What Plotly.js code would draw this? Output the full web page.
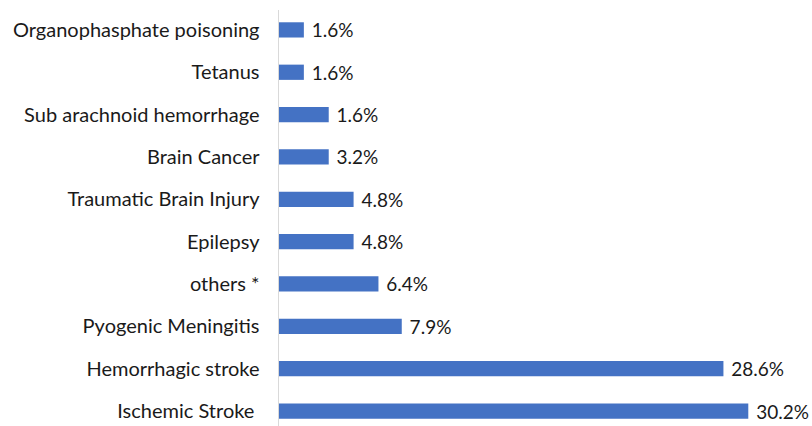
<!DOCTYPE html>
<html><head><meta charset="utf-8">
<script src="https://cdn.plot.ly/plotly-3.0.1.min.js"></script>
<style>html,body{margin:0;padding:0;background:#fff}#chart{width:812px;height:426px}</style>
</head><body><div id="chart"></div>
<script>
const categories = ["Ischemic Stroke ", "Hemorrhagic stroke", "Pyogenic Meningitis", "others *", "Epilepsy", "Traumatic Brain Injury", "Brain Cancer", "Sub arachnoid hemorrhage", "Tetanus", "Organophasphate poisoning"];
const barValues = [30.2, 28.6, 7.9, 6.4, 4.8, 4.8, 3.2, 3.2, 1.6, 1.6];
const valueLabels = ["30.2%", "28.6%", "7.9%", "6.4%", "4.8%", "4.8%", "3.2%", "1.6%", "1.6%", "1.6%"];

const FONT = 'Lato, "Open Sans", sans-serif';
const trace = {
  type: 'bar', orientation: 'h',
  y: categories, x: barValues,
  text: valueLabels, texttemplate: ' %{text}', textposition: 'outside', cliponaxis: false,
  constraintext: 'none',
  textfont: {family: FONT, size: 19, color: '#1a1a1a'},
  marker: {color: '#4472C4'},
  hoverinfo: 'none'
};
const layout = {
  width: 812, height: 426,
  margin: {l: 279, r: 0, t: 10, b: 0},
  paper_bgcolor: '#fff', plot_bgcolor: '#fff',
  bargap: 0.64,
  showlegend: false,
  font: {family: FONT, size: 20, color: '#1a1a1a'},
  xaxis: {range: [0, 34.3], showgrid: false, zeroline: false, showticklabels: false, showline: false, ticks: ''},
  yaxis: {type: 'category', range: [-0.354, 9.47], showgrid: false, zeroline: false,
          showline: true, linecolor: '#d9d9d9', linewidth: 1.5, ticks: '', ticklabelstandoff: 14,
          tickfont: {family: FONT, size: 20, color: '#1a1a1a'}}
};
Plotly.newPlot('chart', [trace], layout, {displayModeBar: false, staticPlot: true});
</script></body></html>
